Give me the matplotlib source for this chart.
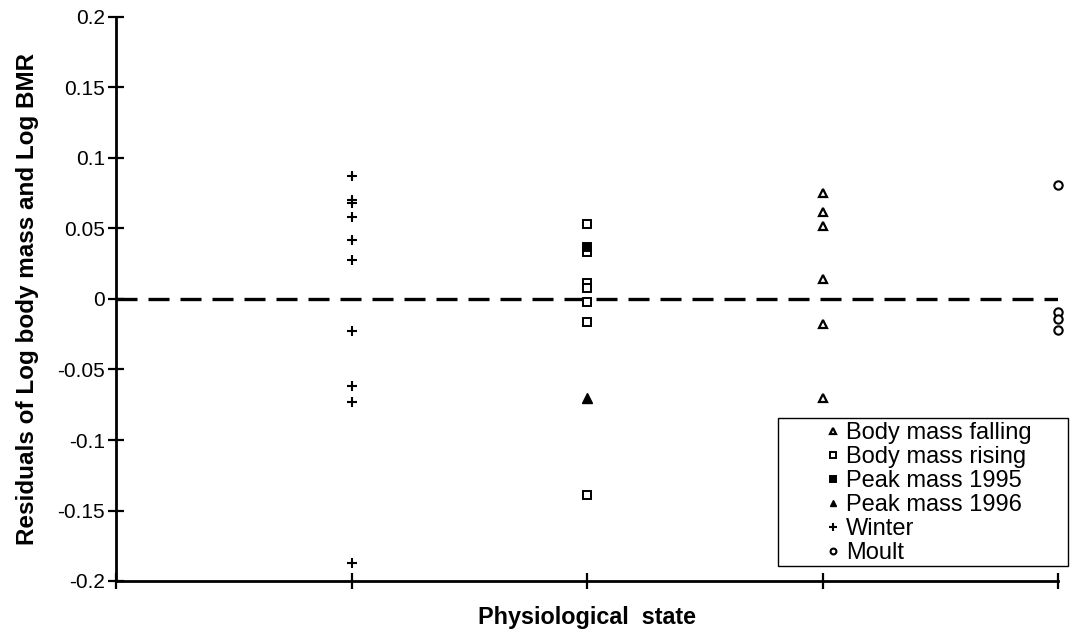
import matplotlib
matplotlib.use('Agg')
from matplotlib import pyplot as plt
from matplotlib.patches import Rectangle

plt.rcParams['font.family'] = ['Liberation Sans', 'DejaVu Sans']

# residuals per physiological state
winter = [0.087, 0.070, 0.068, 0.058, 0.042, 0.028, -0.023, -0.062, -0.073, -0.187]
mass_rising = [0.053, 0.033, 0.011, 0.008, -0.002, -0.016, -0.139]
peak_1995 = [0.037]
peak_1996 = [-0.070]
mass_falling = [0.075, 0.062, 0.052, 0.014, -0.018, -0.070]
moult = [0.081, -0.009, -0.014, -0.022]

state_pos = [1, 2, 3, 4]  # winter, rising/peak, falling, moult
y_ticks = [-0.2, -0.15, -0.1, -0.05, 0, 0.05, 0.1, 0.15, 0.2]
y_tick_labels = ['-0.2', '-0.15', '-0.1', '-0.05', '0', '0.05', '0.1', '0.15', '0.2']

W, H = 1076, 630
fig = plt.figure(figsize=(W / 100, H / 100), dpi=100)
ax = fig.add_axes([116 / W, 49 / H, (1058 - 116) / W, (581 - 17) / H])

ax.axhline(0, color='black', lw=2.4, dashes=(6.3, 3.3), zorder=1)

ax.plot([state_pos[2]] * len(mass_falling), mass_falling, ls='none', marker='^',
        ms=6, mfc='white', mec='black', mew=1.6, label='Body mass falling', clip_on=False)
ax.plot([state_pos[1]] * len(mass_rising), mass_rising, ls='none', marker='s',
        ms=6, mfc='white', mec='black', mew=1.4, label='Body mass rising', clip_on=False)
ax.plot([state_pos[1]] * len(peak_1995), peak_1995, ls='none', marker='s',
        ms=6, mfc='black', mec='black', mew=1.4, label='Peak mass 1995', clip_on=False)
ax.plot([state_pos[1]] * len(peak_1996), peak_1996, ls='none', marker='^',
        ms=7, mfc='black', mec='black', mew=1.0, label='Peak mass 1996', clip_on=False)
ax.plot([state_pos[0]] * len(winter), winter, ls='none', marker='+',
        ms=7.5, mec='black', mew=1.5, label='Winter', clip_on=False)
ax.plot([state_pos[3]] * len(moult), moult, ls='none', marker='o',
        ms=6, mfc='white', mec='black', mew=1.5, label='Moult', clip_on=False)

ax.set_xlim(0, 4)
ax.set_ylim(-0.2, 0.2)
ax.set_xticks([0, 1, 2, 3, 4])
ax.set_xticklabels([])
ax.set_yticks(y_ticks)
ax.set_yticklabels(y_tick_labels)
ax.tick_params(direction='inout', length=12, width=1.6, labelsize=15, pad=2)

for side in ['top', 'right']:
    ax.spines[side].set_visible(False)
for side in ['left', 'bottom']:
    ax.spines[side].set_linewidth(2)

ax.set_xlabel('Physiological  state', fontsize=16.8, fontweight='bold', labelpad=10)
ax.set_ylabel('Residuals of Log body mass and Log BMR', fontsize=17.5,
              fontweight='bold', labelpad=13)

# legend box drawn separately so it can be wider than its entries
frame = Rectangle((778 / W, 1 - 566 / H), (1068 - 778) / W, (566 - 418) / H,
                  transform=fig.transFigure, facecolor='white',
                  edgecolor='black', lw=1.0, zorder=5, clip_on=False)
ax.add_patch(frame)

leg = ax.legend(loc='upper left', bbox_to_anchor=(826 / W, 1 - 422 / H),
                bbox_transform=fig.transFigure, fontsize=17, frameon=False,
                borderpad=0, handlelength=0.6, handletextpad=0.25,
                labelspacing=0.085, borderaxespad=0, markerscale=0.7)
leg.set_zorder(6)

fig.savefig('out.png', dpi=100)
